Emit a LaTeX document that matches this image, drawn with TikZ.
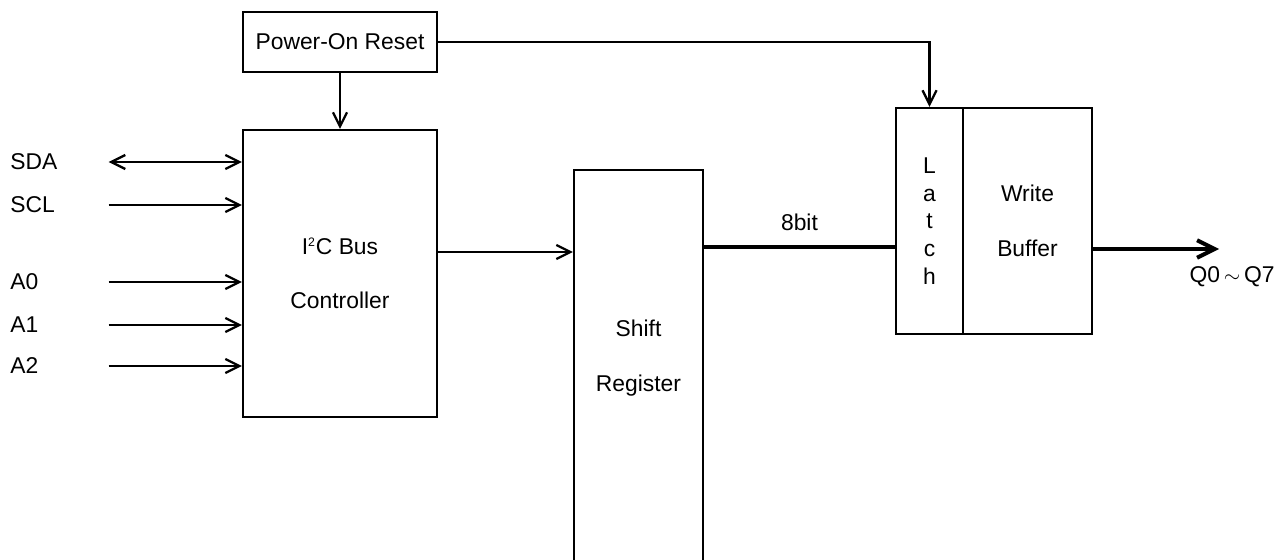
\documentclass[tikz,border=0pt]{standalone}
\usepackage{fontspec}
\setmainfont{Liberation Sans}
\usetikzlibrary{arrows.meta}

\tikzset{
    txt/.style={align=center, inner sep=0pt, font=\fontsize{13}{31}\selectfont},
    blk/.style={txt, draw, line width=1.3pt},
    pin/.style={inner sep=0pt, anchor=west, text width=1.96cm, align=left, font=\fontsize{13}{15}\selectfont},
    sig/.style={line width=1.3pt, -{Straight Barb[length=8pt,width=8pt]}},
    dsig/.style={line width=1.3pt, {Straight Barb[length=8pt,width=8pt]}-{Straight Barb[length=8pt,width=8pt]}},
    bus/.style={line width=2pt},
    outbus/.style={line width=2.3pt, -{Straight Barb[length=10pt,width=10pt]}},
}

\begin{document}
\begin{tikzpicture}[x=0.02cm, y=-0.02cm]
    \useasboundingbox (0,0) rectangle (1277,560);
    \clip (0,0) rectangle (1277,560);

    % reset and bus controller
    \node[blk, minimum width=3.88cm, minimum height=1.2cm] (por) at (340,42) {Power-On Reset};
    \node[blk, minimum width=3.88cm, minimum height=5.74cm] (ctrl) at (340,273.5) {I\textsuperscript{\scriptsize 2}C Bus\\Controller};

    % input pins
    \foreach \name/\txt/\y in {sda/SDA/162, scl/SCL/205, a0/A0/282, a1/A1/325, a2/A2/366}
        \node[pin] (\name) at (10,\y) {\txt};

    \draw[dsig] (sda.east) -- (sda.east -| ctrl.west);
    \foreach \name in {scl,a0,a1,a2}
        \draw[sig] (\name.east) -- (\name.east -| ctrl.west);

    % shift register (runs off the bottom)
    \node[blk, minimum width=2.58cm, minimum height=9cm, anchor=north] (shift) at (638.5,169) {};
    \node[txt] (shifttxt) at (638.5,358) {Shift\\Register};

    % latch and write buffer
    \node[blk, minimum width=1.34cm, minimum height=4.52cm, font=\fontsize{13}{15.7}\selectfont] (latch) at (929.5,221) {L\\a\\t\\c\\h};
    \node[blk, minimum width=2.58cm, minimum height=4.52cm] (wbuf) at (1027.5,221) {Write\\Buffer};

    % connections
    \draw[sig] (por) -- (ctrl);
    \draw[sig] (por.east) -| (latch.north);

    \coordinate (cout) at ([yshift=0.43cm]ctrl.east);
    \draw[sig] (cout) -- (cout -| shift.west);

    \coordinate (busin) at ([yshift=-0.52cm]latch.west);
    \draw[bus] (busin -| shift.east) -- (busin) node[midway, above=0.3cm, txt] (bits) {8bit};

    \coordinate (wout) at ([yshift=-0.56cm]wbuf.east);
    \coordinate (qend) at ([xshift=2.52cm]wout);
    \draw[outbus] (wout) -- (qend);
    \node[txt] (qlbl) at (1232,277) {Q0\,$\sim$\,Q7};
\end{tikzpicture}
\end{document}
